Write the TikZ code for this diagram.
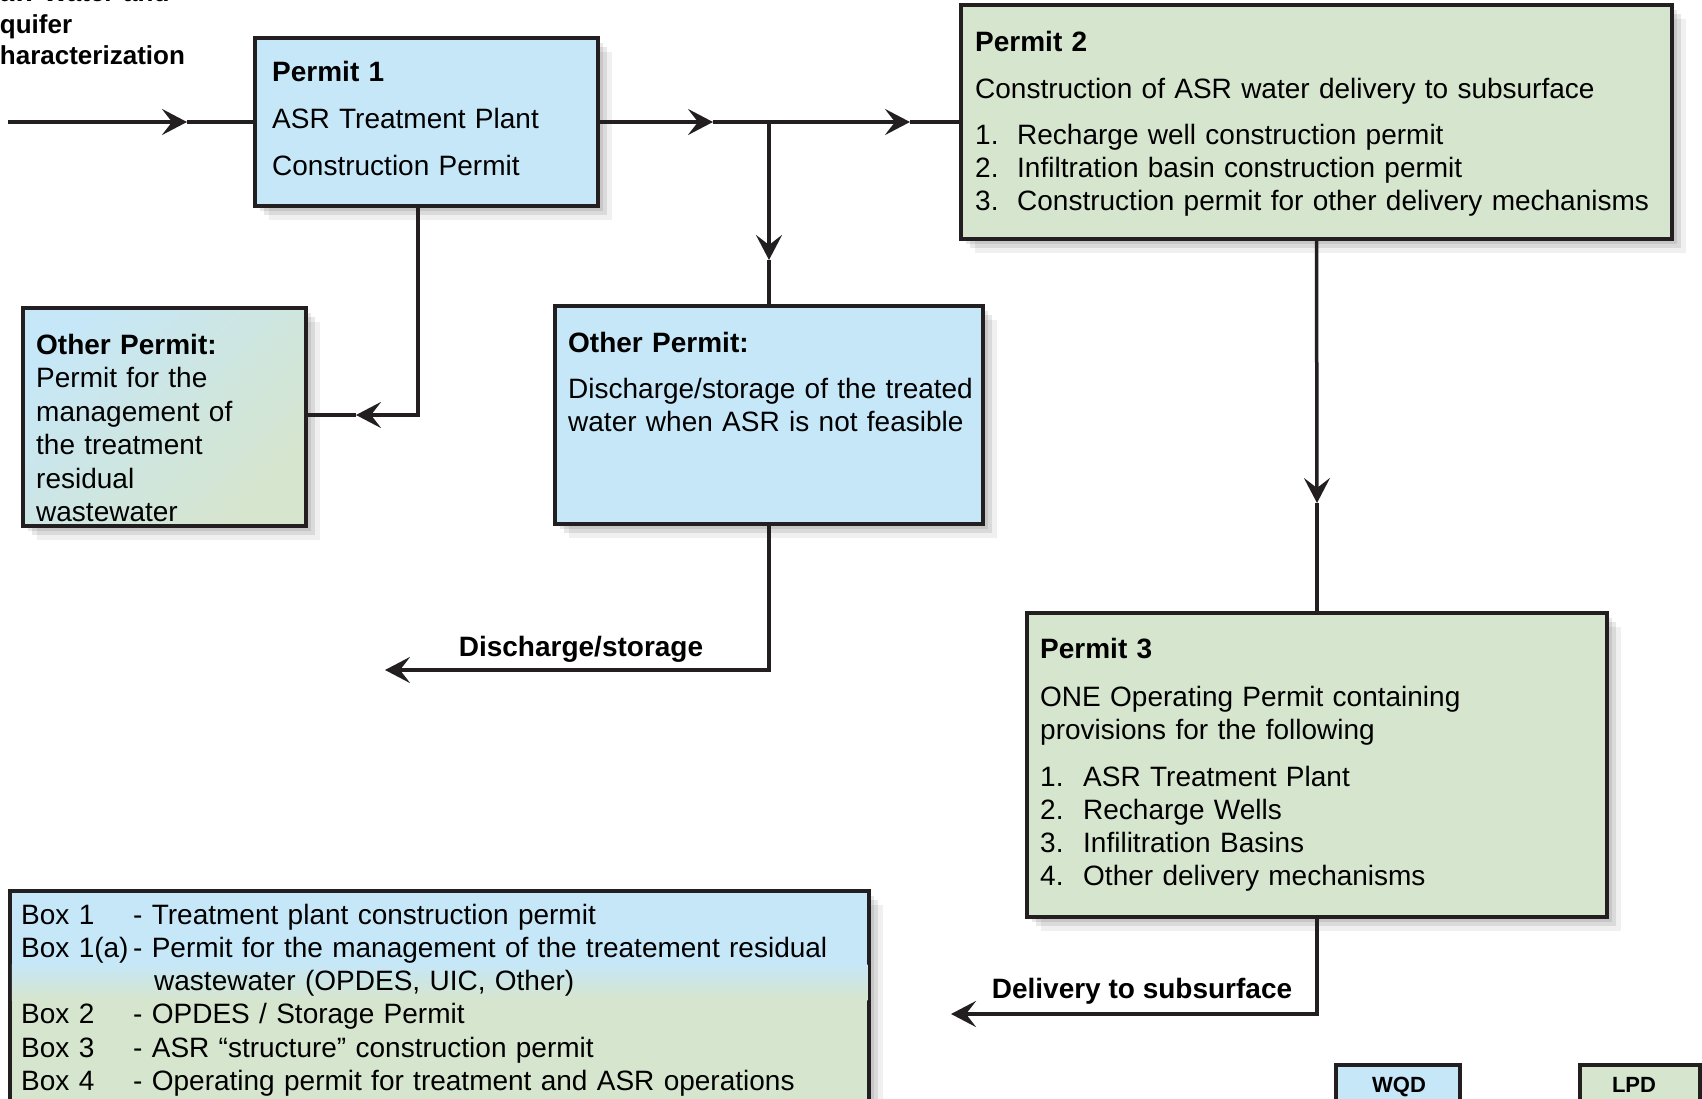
\documentclass[tikz,border=0pt]{standalone}
\usepackage{fontspec}
\setmainfont{Liberation Sans}
\usetikzlibrary{arrows.meta,shadows}
\definecolor{wqdblue}{RGB}{198,231,247}
\definecolor{lpdgreen}{RGB}{214,229,205}
\definecolor{ink}{RGB}{35,31,32}
\begin{document}
\begin{tikzpicture}[x=1pt,y=-1pt,
    permit/.style={draw=ink,line width=3.5pt,inner sep=0pt,
      drop shadow={shadow xshift=5pt,shadow yshift=-5pt,fill=black,opacity=.09},
      drop shadow={shadow xshift=9pt,shadow yshift=-9pt,fill=black,opacity=.09},
      drop shadow={shadow xshift=14pt,shadow yshift=-14pt,fill=black,opacity=.06}},
    boxtext/.style={anchor=base west,inner sep=0pt,align=left,
      font=\fontsize{28}{33}\selectfont},
    flowlabel/.style={inner sep=0pt,font=\bfseries\fontsize{28}{33}\selectfont},
    flow/.style={draw=ink,line width=3.5pt},
    flowtip/.style={-{Stealth[length=25pt,width=26pt,inset=10pt]}}]
  \useasboundingbox (0,0) rectangle (1702,1099);
  % permit boxes
  \node[permit,fill=wqdblue,minimum width=343pt,minimum height=168pt] (p1) at (426.5,122) {};
  \node[permit,fill=lpdgreen,minimum width=711pt,minimum height=234pt] (p2) at (1316.5,122) {};
  \node[permit,top color=wqdblue,bottom color=lpdgreen,shading angle=45,
    minimum width=283pt,minimum height=218pt] (res) at (164.5,417) {};
  \node[permit,fill=wqdblue,minimum width=428pt,minimum height=218pt] (alt) at (769,415) {};
  \node[permit,fill=lpdgreen,minimum width=580pt,minimum height=304pt] (p3) at (1317,765) {};
  % legend
  \node[permit,fill=lpdgreen,minimum width=859pt,minimum height=234pt] (legend) at (439.5,1008) {};
  \fill[wqdblue] (11.75,892.75) rectangle (867.25,965);
  \shade[top color=wqdblue,bottom color=lpdgreen] (11.75,964) rectangle (867.25,1000);
  \node[draw=ink,line width=3.5pt,fill=wqdblue,minimum width=124pt,minimum height=60pt] (wqd) at (1398,1095) {};
  \node[draw=ink,line width=3.5pt,fill=lpdgreen,minimum width=120pt,minimum height=60pt] (lpd) at (1640,1095) {};

  % texts
  \node[boxtext,text width=320pt] (p1txt) at (272,82)
    {\textbf{Permit 1}\\[14pt]ASR Treatment Plant\\[14pt]Construction Permit};
  \node[boxtext,text width=690pt] (p2txt) at (975,52)
    {\textbf{Permit 2}\\[14pt]Construction of ASR water delivery to subsurface\\[13pt]
     \makebox[42pt][l]{1.}Recharge well construction permit\\
     \makebox[42pt][l]{2.}Infiltration basin construction permit\\
     \makebox[42pt][l]{3.}Construction permit for other delivery mechanisms};
  \node[boxtext,text width=260pt,font=\fontsize{28}{33.5}\selectfont] (restxt) at (36,354)
    {\textbf{Other Permit:}\\Permit for the\\management of\\the treatment\\residual\\wastewater};
  \node[boxtext,text width=410pt] (alttxt) at (568,352)
    {\textbf{Other Permit:}\\[13pt]Discharge/storage of the treated\\water when ASR is not feasible};
  \node[boxtext,text width=560pt] (p3txt) at (1040,658)
    {\textbf{Permit 3}\\[15pt]ONE Operating Permit containing\\provisions for the following\\[14pt]
     \makebox[43pt][l]{1.}ASR Treatment Plant\\
     \makebox[43pt][l]{2.}Recharge Wells\\
     \makebox[43pt][l]{3.}Infilitration Basins\\
     \makebox[43pt][l]{4.}Other delivery mechanisms};
  \node[boxtext,text width=850pt,font=\fontsize{28}{33.3}\selectfont] (legtxt) at (21,924)
    {\makebox[112pt][l]{Box 1}- Treatment plant construction permit\\
     \makebox[112pt][l]{Box 1(a)}- Permit for the management of the treatement residual\\
     \hspace*{133pt}wastewater (OPDES, UIC, Other)\\
     \makebox[112pt][l]{Box 2}- OPDES / Storage Permit\\
     \makebox[112pt][l]{Box 3}- ASR “structure” construction permit\\
     \makebox[112pt][l]{Box 4}- Operating permit for treatment and ASR operations};
  \node[flowlabel,font=\bfseries\fontsize{26}{31.5}\selectfont,anchor=base west,
    align=left,text width=300pt] (srctxt) at (-19,2)
    {Raw Water and\\Aquifer\\Characterization};
  \node[flowlabel,anchor=base] (dislab) at (581,656) {Discharge/storage};
  \node[flowlabel,anchor=base] (dellab) at (1142,998) {Delivery to subsurface};
  \node[flowlabel,font=\bfseries\fontsize{22}{26}\selectfont,anchor=base] (wqdtxt) at (1399,1092) {WQD};
  \node[flowlabel,font=\bfseries\fontsize{22}{26}\selectfont,anchor=base] (lpdtxt) at (1634,1092) {LPD};

  % connectors
  \coordinate (inlet) at (8,122);
  \coordinate (intip) at (187,122);
  \draw[flow,flowtip] (inlet) -- (intip);
  \draw[flow] (intip) -- (p1.west);
  \coordinate (tipa) at (713,122);
  \coordinate (fork) at (769,122);
  \coordinate (tipb) at (910,122);
  \draw[flow,flowtip] (p1.east) -- (tipa);
  \draw[flow,flowtip] (tipa) -- (tipb);
  \draw[flow] (tipb) -- (p2.west);
  \coordinate (forktip) at (769,260);
  \draw[flow,flowtip] (fork) -- (forktip);
  \draw[flow] (forktip) -- (alt.north);
  \coordinate (rescorner) at (418,415);
  \coordinate (restip) at (356,415);
  \draw[flow,flowtip] (p1.south -| rescorner) |- (restip);
  \draw[flow] (restip) -- (res.east |- restip);
  \coordinate (optip) at (1317,503);
  \draw[flow,flowtip] (p2.south) -- (optip);
  \draw[flow] (optip) -- (p3.north);
  \coordinate (disend) at (385,670);
  \draw[flow,flowtip] (alt.south) |- (disend);
  \coordinate (delend) at (951,1014);
  \draw[flow,flowtip] (p3.south) |- (delend);
\end{tikzpicture}
\end{document}
